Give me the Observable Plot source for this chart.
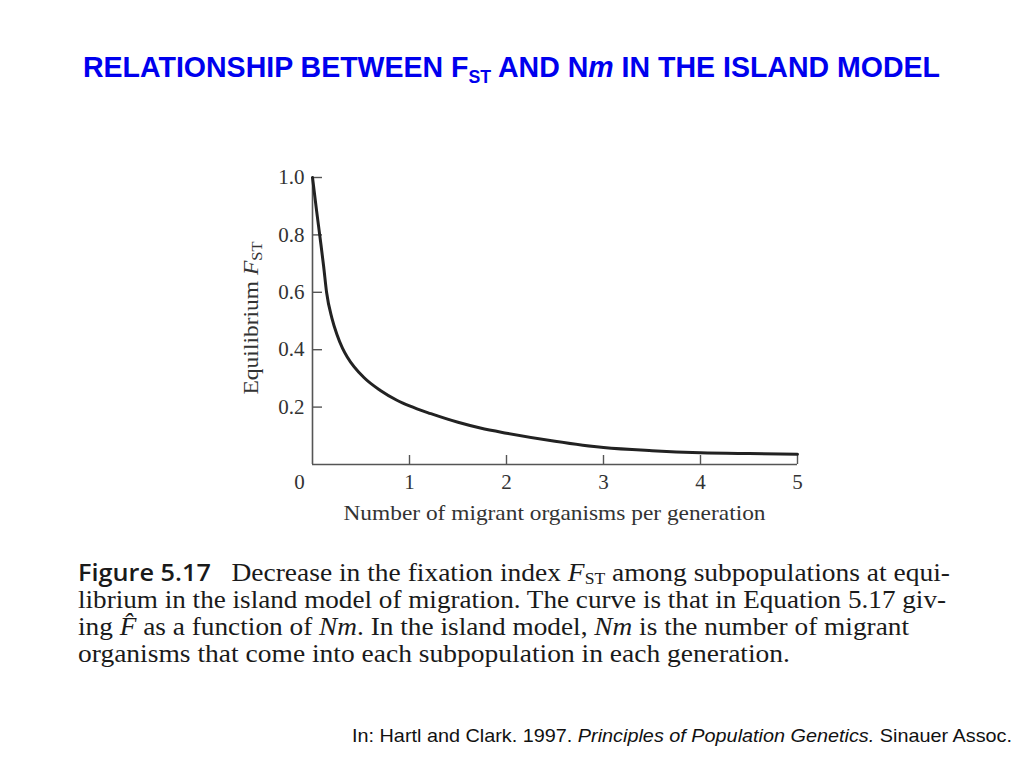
<!DOCTYPE html>
<html><head><meta charset="utf-8">
<script src="https://cdn.jsdelivr.net/npm/d3@7"></script>
<script src="https://cdn.jsdelivr.net/npm/@observablehq/plot@0.6"></script>
<style>
html,body{margin:0;padding:0;background:#fff;width:1024px;height:768px;overflow:hidden;}
#wrap{position:relative;width:1024px;height:768px;}
#chart{position:absolute;left:0;top:0;}
.fit{position:absolute;white-space:nowrap;transform-origin:0 0;display:inline-block;}
#title{font-family:"Liberation Sans",Arial,sans-serif;font-weight:bold;color:#0000ee;font-size:29px;line-height:29px;left:83px;top:53px;}
#title sub{font-size:18px;vertical-align:baseline;position:relative;top:6px;}
.cap{font-family:"Liberation Serif","Times New Roman",serif;font-size:25px;line-height:27px;color:#1a1a1a;left:78px;}
.cap b{font-family:"Open Sans","Liberation Sans",sans-serif;font-weight:600;font-size:23px;}
.cap sub{font-size:16px;vertical-align:baseline;position:relative;top:3px;}
#source{font-family:"Liberation Sans",Arial,sans-serif;font-size:19px;line-height:19px;color:#111;left:352px;top:726px;}
</style></head>
<body><div id="wrap">
<div id="chart"></div>
<div id="title" class="fit" data-w="857">RELATIONSHIP BETWEEN F<sub>ST</sub> AND N<i>m</i> IN THE ISLAND MODEL</div>
<div class="fit cap" data-w="872" style="top:559px"><b>Figure 5.17</b>&nbsp;&nbsp;&nbsp;Decrease in the fixation index <i>F</i><sub>ST</sub> among subpopulations at equi-</div>
<div class="fit cap" data-w="868" style="top:586px">librium in the island model of migration. The curve is that in Equation 5.17 giv-</div>
<div class="fit cap" data-w="831" style="top:613px">ing <i>F̂</i> as a function of <i>Nm</i>. In the island model, <i>Nm</i> is the number of migrant</div>
<div class="fit cap" data-w="712" style="top:640px">organisms that come into each subpopulation in each generation.</div>
<div id="source" class="fit" data-w="660">In: Hartl and Clark. 1997. <i>Principles of Population Genetics.</i> Sinauer Assoc.</div>
</div>
<script>
// Values
const nm  = [0, 0.04, 0.08, 0.115, 0.145, 0.2, 0.25, 0.31, 0.36, 0.53, 0.7, 0.87, 1.0, 1.22, 1.5, 1.73, 2.0, 2.5, 3.0, 3.5, 4.0, 4.5, 5.0];
const fst = [1.0, 0.89, 0.785, 0.69, 0.60, 0.51, 0.455, 0.405, 0.374, 0.303, 0.258, 0.224, 0.204, 0.177, 0.147, 0.127, 0.109, 0.081, 0.059, 0.048, 0.041, 0.038, 0.036];
const yTicks = [0.2, 0.4, 0.6, 0.8, 1.0];
const xTicks = [1, 2, 3, 4, 5];
const xZero = [0];
const xLabel = "Number of migrant organisms per generation";
const yLabelMain = "Equilibrium ";
const yLabelVar = "F";
const yLabelSub = "ST";

const data = nm.map((x, i) => ({nm: x, fst: fst[i]}));
const axisColor = "#555";
const textColor = "#333";

const chart = Plot.plot({
  width: 1024, height: 768,
  marginLeft: 312, marginRight: 227, marginTop: 177, marginBottom: 304,
  x: {domain: [0, 5]},
  y: {domain: [0, 1]},
  style: {fontFamily: "'Liberation Serif', 'Times New Roman', serif", fontSize: "21px", color: textColor, background: "transparent", overflow: "visible"},
  marks: [
    Plot.ruleX([0], {stroke: axisColor, strokeWidth: 1.6}),
    Plot.ruleY([0], {stroke: axisColor, strokeWidth: 1.6}),
    Plot.axisY(yTicks, {tickSize: 0, tickPadding: 8, tickFormat: d3.format(".1f"), label: null, fill: textColor}),
    Plot.axisY(yTicks, {tickSize: -10, tickFormat: () => "", label: null, stroke: axisColor, strokeWidth: 1.4}),
    Plot.axisX(xTicks, {tickSize: 0, tickPadding: 10, tickFormat: d3.format("d"), label: null, fill: textColor}),
    Plot.axisX(xTicks, {tickSize: -9, tickFormat: () => "", label: null, stroke: axisColor, strokeWidth: 1.4}),
    Plot.axisX(xZero, {tickSize: 0, tickPadding: 10, dx: -13, tickFormat: d3.format("d"), label: null, fill: textColor}),
    Plot.line(data, {x: "nm", y: "fst", curve: "monotone-x", stroke: "#222", strokeWidth: 3})
  ]
});
document.getElementById("chart").appendChild(chart);

const svg = d3.select(chart);
svg.selectAll("text")
  .filter(function() { return /^[0-9.]+$/.test(this.textContent.trim()); })
  .attr("font-size", 21).style("font-size", "21px");

svg.append("text")
  .attr("x", 554.5).attr("y", 520)
  .attr("text-anchor", "middle")
  .attr("font-family", "'Liberation Serif', 'Times New Roman', serif")
  .attr("font-size", 21).attr("fill", textColor)
  .attr("textLength", 422).attr("lengthAdjust", "spacingAndGlyphs")
  .text(xLabel);

const yl = svg.append("text")
  .attr("transform", "translate(258,318) rotate(-90)")
  .attr("text-anchor", "middle")
  .attr("font-family", "'Liberation Serif', 'Times New Roman', serif")
  .attr("font-size", 20).attr("fill", textColor)
  .attr("textLength", 153).attr("lengthAdjust", "spacingAndGlyphs");
yl.append("tspan").text(yLabelMain);
yl.append("tspan").attr("font-style", "italic").text(yLabelVar);
yl.append("tspan").attr("font-size", 14).attr("dy", 4).text(yLabelSub);

document.querySelectorAll(".fit").forEach(el => {
  const w = el.getBoundingClientRect().width;
  const target = +el.dataset.w;
  el.style.transform = `scaleX(${target / w})`;
});
</script>
</body></html>
